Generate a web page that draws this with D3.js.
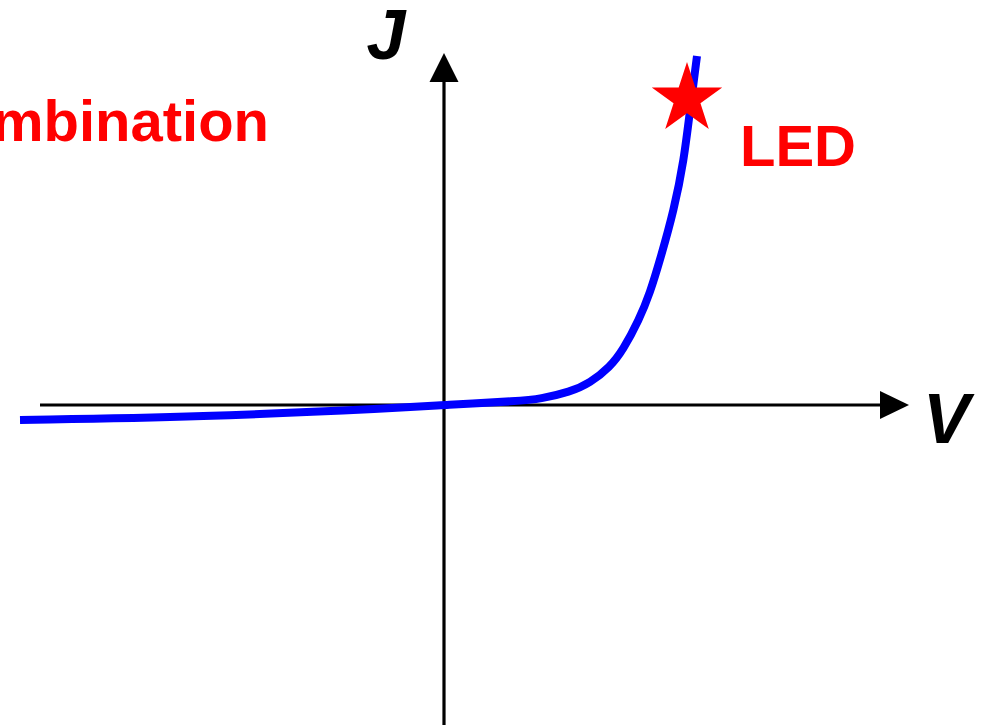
<!DOCTYPE html>
<html><head><meta charset="utf-8">
<script src="https://cdn.jsdelivr.net/npm/d3@7"></script>
<style>html,body{margin:0;padding:0;background:#fff;overflow:hidden}</style>
</head><body>
<svg id="chart" width="989" height="725"></svg>
<script>
// Data (V, J) in arbitrary units
const voltage = [-2.12, -1.22, -0.22, 0, 0.38, 0.48, 0.63, 0.73, 0.83, 0.895, 0.975, 1.03, 1.08, 1.15, 1.2, 1.23, 1.265];
const current = [-0.075, -0.06, -0.015, 0, 0.02, 0.03, 0.065, 0.11, 0.19, 0.275, 0.425, 0.56, 0.725, 0.975, 1.225, 1.475, 1.745];
const ledPoint = {V: 1.235, J: 1.525};
const labels = {x: "V", y: "J", led: "LED", left: "Recombination"};
const axisExtent = {vMin: -2.02, vMax: 2.325, jMin: -1.6, jMax: 1.76};

const svg = d3.select("#chart");
const x = d3.scaleLinear().domain([0, 1]).range([444, 644]);
const y = d3.scaleLinear().domain([0, 1]).range([405, 205]);

// axes
svg.append("line").attr("x1", x(axisExtent.vMin)).attr("x2", x(axisExtent.vMax) - 25)
  .attr("y1", y(0)).attr("y2", y(0)).attr("stroke", "#000").attr("stroke-width", 3.2);
svg.append("line").attr("x1", x(0)).attr("x2", x(0))
  .attr("y1", y(axisExtent.jMin)).attr("y2", y(axisExtent.jMax) + 25).attr("stroke", "#000").attr("stroke-width", 3.2);

const xt = x(axisExtent.vMax), yt = y(axisExtent.jMax);
svg.append("path").attr("d", d3.line()([[xt, y(0)], [xt - 29, y(0) - 14], [xt - 29, y(0) + 14]]) + "Z").attr("fill", "#000");
svg.append("path").attr("d", d3.line()([[x(0), yt], [x(0) - 14.5, yt + 29], [x(0) + 14.5, yt + 29]]) + "Z").attr("fill", "#000");

// curve
const pts = voltage.map((v, i) => [v, current[i]]);
svg.append("path").datum(pts)
  .attr("d", d3.line().x(d => x(d[0])).y(d => y(d[1])).curve(d3.curveBasis))
  .attr("fill", "none").attr("stroke", "#0000ff").attr("stroke-width", 8);

// star
svg.append("path")
  .attr("d", d3.symbol(d3.symbolStar).size(1540)())
  .attr("transform", `translate(${x(ledPoint.V) - 4},${y(ledPoint.J) - 1})`)
  .attr("fill", "#ff0000");

const font = "'Liberation Sans', Arial, sans-serif";
svg.append("text").attr("x", 386).attr("y", 59).attr("text-anchor", "middle")
  .attr("font-family", font).attr("font-weight", "bold").attr("font-style", "italic")
  .attr("font-size", 70).attr("fill", "#000").text(labels.y);
svg.append("text").attr("x", 923).attr("y", 443)
  .attr("font-family", font).attr("font-weight", "bold").attr("font-style", "italic")
  .attr("font-size", 70).attr("fill", "#000").text(labels.x);
svg.append("text").attr("x", 740).attr("y", 166)
  .attr("font-family", font).attr("font-weight", "bold")
  .attr("font-size", 58).attr("fill", "#ff0000").text(labels.led);
svg.append("text").attr("x", 269).attr("y", 141).attr("text-anchor", "end")
  .attr("font-family", font).attr("font-weight", "bold")
  .attr("font-size", 58).attr("fill", "#ff0000").text(labels.left);
</script>
</body></html>
